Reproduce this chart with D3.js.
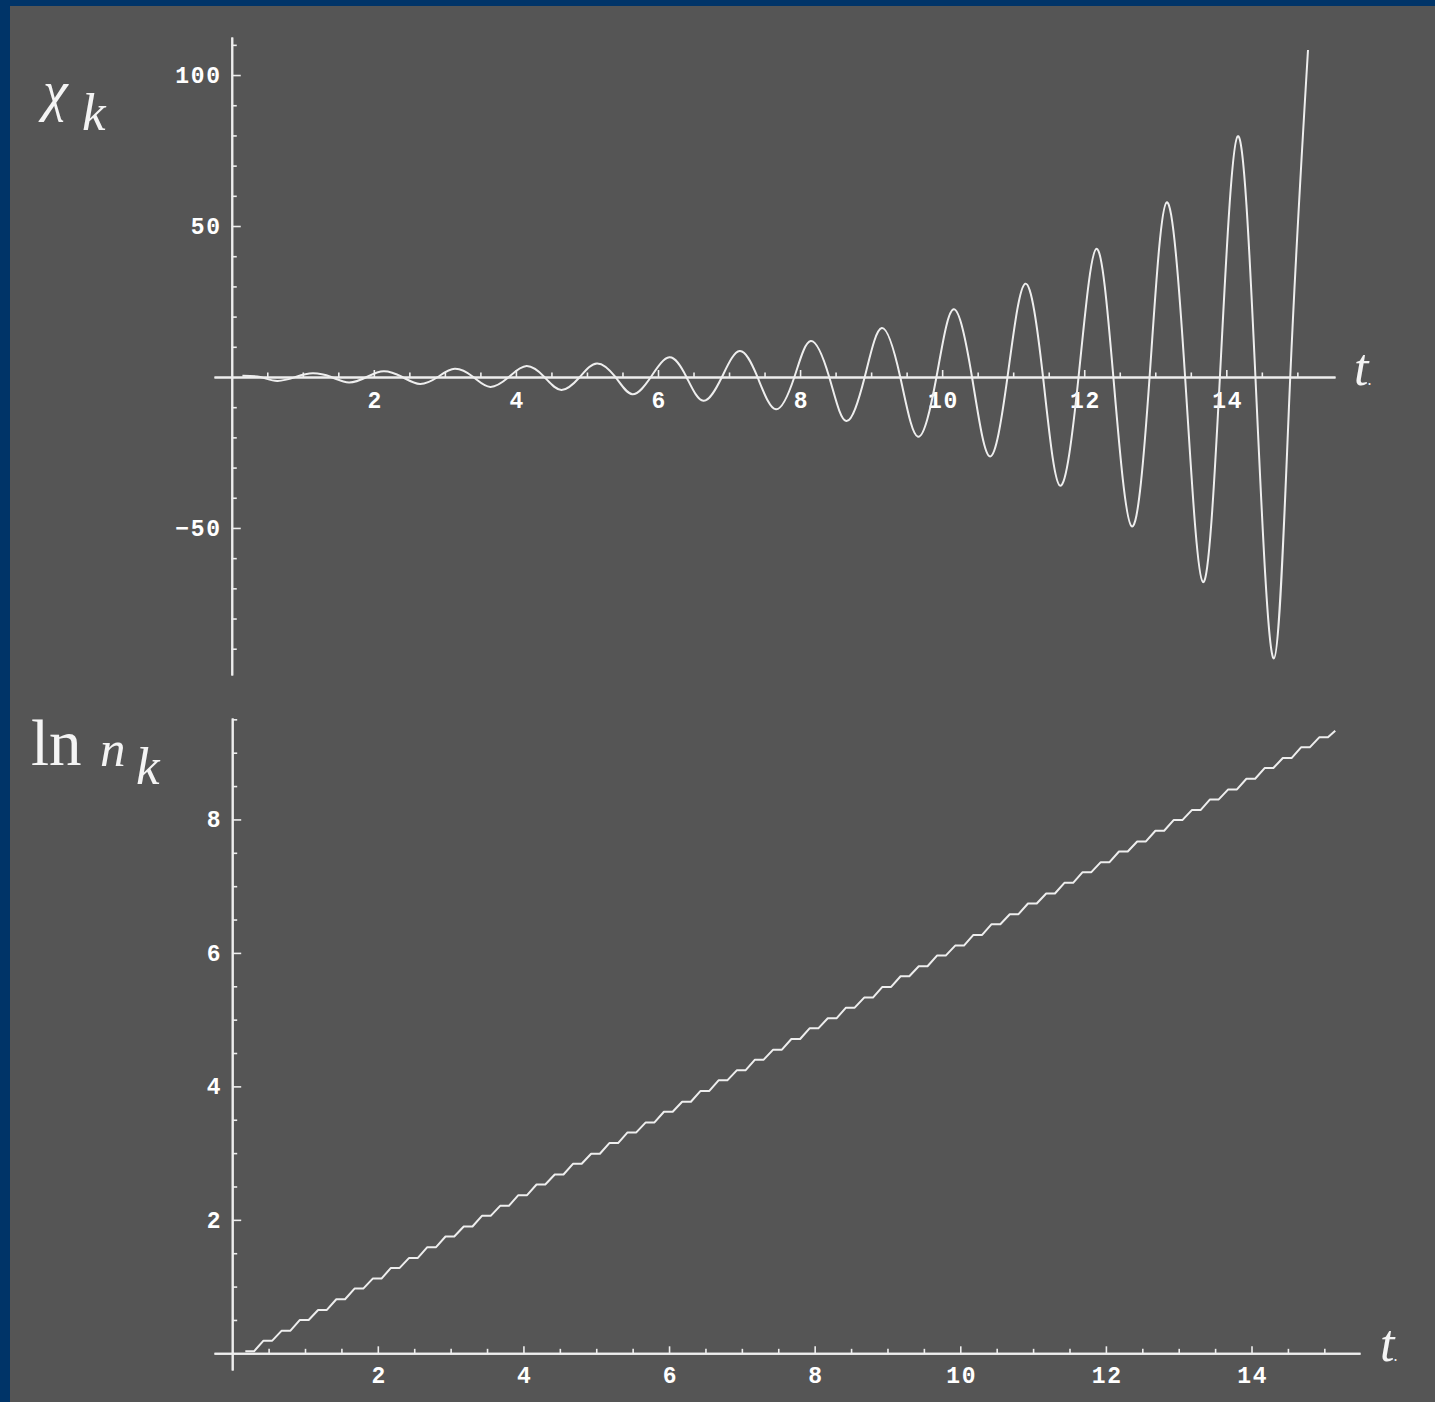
<!DOCTYPE html>
<html><head><meta charset="utf-8">
<script src="https://cdn.jsdelivr.net/npm/d3@7"></script>
<style>
html,body{margin:0;padding:0;background:#003468;}
svg{display:block;}
.tick text{font-family:"Liberation Mono","DejaVu Sans Mono",monospace;font-weight:bold;font-size:23px;letter-spacing:1.7px;fill:#ffffff;}
.lbl{font-family:"Liberation Serif","DejaVu Serif",serif;fill:#f4f4f4;}
</style></head><body>
<svg id="chart" width="1435" height="1402"></svg>
<script>
// ---- data ----
// upper panel: chi_k(t), extrema and zero crossings
const chiT = [0.15,0.40,0.64,0.90,1.14,1.40,1.65,1.90,2.14,2.40,2.65,2.90,3.14,3.40,3.64,3.90,4.15,4.40,4.64,4.90,5.14,5.40,5.64,5.90,6.16,6.40,6.64,6.90,7.15,7.40,7.66,7.92,8.15,8.41,8.65,8.91,9.15,9.41,9.66,9.92,10.16,10.42,10.67,10.92,11.17,11.42,11.66,11.92,12.17,12.41,12.67,12.92,13.16,13.42,13.67,13.91,14.16,14.41,14.67,14.90,15.15];
const chiV = [0.4,0,-1.3,0,1.2,0,-1.8,0,1.9,0,-2.3,0,2.7,0,-3.3,0,3.6,0,-4.3,0,4.5,0,-5.7,0,6.5,0,-7.9,0,8.6,0,-10.7,0,11.9,0,-14.6,0,16.2,0,-19.8,0,22.4,0,-26.3,0,30.9,0,-36.0,0,42.4,0,-49.5,0,57.8,0,-67.9,0,79.7,0,-93.2,0,108.3];
// lower panel: ln n_k(t), a small staircase (flat start, flat end, level)
const lnStepStart = [0.18,0.43,0.68,0.93,1.18,1.43,1.68,1.93,2.18,2.43,2.68,2.93,3.18,3.43,3.68,3.93,4.18,4.43,4.68,4.93,5.18,5.43,5.68,5.93,6.18,6.43,6.68,6.93,7.18,7.43,7.68,7.93,8.18,8.43,8.68,8.93,9.18,9.43,9.68,9.93,10.18,10.43,10.68,10.93,11.18,11.43,11.68,11.93,12.18,12.43,12.68,12.93,13.18,13.43,13.68,13.93,14.18,14.43,14.68,14.93];
const lnStepEnd   = [0.30,0.55,0.80,1.05,1.30,1.55,1.80,2.05,2.30,2.55,2.80,3.05,3.30,3.55,3.80,4.05,4.30,4.55,4.80,5.05,5.30,5.55,5.80,6.05,6.30,6.55,6.80,7.05,7.30,7.55,7.80,8.05,8.30,8.55,8.80,9.05,9.30,9.55,9.80,10.05,10.30,10.55,10.80,11.05,11.30,11.55,11.80,12.05,12.30,12.55,12.80,13.05,13.30,13.55,13.80,14.05,14.30,14.55,14.80,15.05];
const lnStepValue = [0.03,0.19,0.34,0.50,0.65,0.81,0.97,1.12,1.28,1.43,1.59,1.75,1.90,2.06,2.21,2.37,2.53,2.68,2.84,2.99,3.15,3.31,3.46,3.62,3.77,3.93,4.09,4.24,4.40,4.55,4.71,4.87,5.02,5.18,5.33,5.49,5.65,5.80,5.96,6.11,6.27,6.43,6.58,6.74,6.89,7.05,7.21,7.36,7.52,7.67,7.83,7.99,8.14,8.30,8.45,8.61,8.77,8.92,9.08,9.23];
const lnLastT = 15.15, lnLastV = 9.33;
// tick labels
const xMajorTicks = [2,4,6,8,10,12,14];
const chiMajorTicks = [-50,50,100];
const lnMajorTicks = [2,4,6,8];

// ---- drawing ----
const W = 1435, H = 1402;
const ink = "#eeeeee";
const svg = d3.select("#chart");
svg.append("rect").attr("width", W).attr("height", H).attr("fill", "#003468");
svg.append("rect").attr("x", 10).attr("y", 6).attr("width", W - 10).attr("height", H - 6).attr("fill", "#555555");

const xMinor = d3.range(0.5, 15.01, 0.5).filter(v => !xMajorTicks.includes(v));

function styleAxis(g) {
  g.selectAll(".domain").attr("stroke", ink).attr("stroke-width", 2);
  g.selectAll(".tick line").attr("stroke", ink).attr("stroke-width", 1.6);
}

function panel(xs, ys, majorY, minorY, xPad) {
  // x axis
  const gx = svg.append("g").attr("transform", `translate(0,${ys(0)})`);
  gx.append("g").call(d3.axisBottom(xs).tickValues(xMinor).tickSizeInner(-4.5).tickSizeOuter(0).tickFormat(""))
    .call(styleAxis);
  gx.append("g").call(d3.axisBottom(xs).tickValues(xMajorTicks).tickSizeInner(-7).tickSizeOuter(0).tickPadding(xPad).tickFormat(d3.format("d")))
    .call(styleAxis)
    .call(g => g.selectAll(".tick text").attr("dx", "0.85px"));
  // y axis
  const gy = svg.append("g").attr("transform", `translate(${xs(0)},0)`);
  gy.append("g").call(d3.axisLeft(ys).tickValues(minorY).tickSizeInner(-5).tickSizeOuter(0).tickFormat(""))
    .call(styleAxis);
  gy.append("g").call(d3.axisLeft(ys).tickValues(majorY).tickSizeInner(-9).tickSizeOuter(0).tickPadding(10).tickFormat(d3.format("d")))
    .call(styleAxis);
}

// upper panel
const x1 = d3.scaleLinear().domain([-0.25, 15.53]).range([214, 1335]);
const y1 = d3.scaleLinear().domain([-98.7, 112.6]).range([675, 37]);
const chiMinor = d3.range(-90, 111, 10).filter(v => v % 50 !== 0);
panel(x1, y1, chiMajorTicks, chiMinor, 15);

const chiData = chiT.map((t, i) => [t, chiV[i]]);
svg.append("path").datum(chiData)
  .attr("fill", "none").attr("stroke", ink).attr("stroke-width", 2)
  .attr("d", d3.line().x(d => x1(d[0])).y(d => y1(d[1])).curve(d3.curveNatural));

// lower panel
const x2 = d3.scaleLinear().domain([-0.25, 15.49]).range([214, 1360]);
const y2 = d3.scaleLinear().domain([-0.25, 9.52]).range([1370, 718]);
const lnMinor = d3.range(0.5, 9.51, 0.5).filter(v => !lnMajorTicks.includes(v));
panel(x2, y2, lnMajorTicks, lnMinor, 13);

const lnData = [];
lnStepStart.forEach((t, i) => { lnData.push([t, lnStepValue[i]]); lnData.push([lnStepEnd[i], lnStepValue[i]]); });
lnData.push([lnLastT, lnLastV]);
svg.append("path").datum(lnData)
  .attr("fill", "none").attr("stroke", ink).attr("stroke-width", 2).attr("stroke-linejoin", "round")
  .attr("d", d3.line().x(d => x2(d[0])).y(d => y2(d[1])));

// axis labels
function lbl(x, y, txt, size, italic) {
  return svg.append("text").attr("class", "lbl").attr("x", x).attr("y", y)
    .attr("font-size", size).attr("font-style", italic ? "italic" : "normal").text(txt);
}
lbl(43, 110, "χ", 56, true);
lbl(82, 130, "k", 53, true);
lbl(31, 765, "ln", 65, false);
lbl(100, 766, "n", 51, true);
lbl(136, 784, "k", 53, true);
const t1 = lbl(1354, 385, "t", 52, true); t1.append("tspan").attr("font-size", 16).attr("font-style", "normal").attr("dx", -1).text(".");
const t2 = lbl(1380, 1361, "t", 52, true); t2.append("tspan").attr("font-size", 16).attr("font-style", "normal").attr("dx", -1).text(".");
</script>
</body></html>
